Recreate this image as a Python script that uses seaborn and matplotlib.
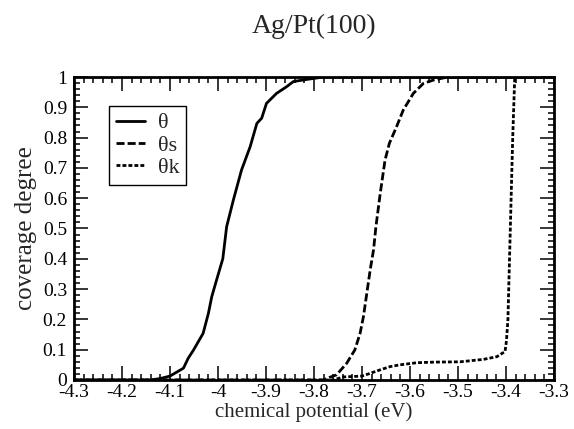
import numpy as np
import pandas as pd
import seaborn as sns
from matplotlib import pyplot as plt
from matplotlib.ticker import MultipleLocator, FormatStrFormatter

mu_theta = [-4.30, -4.14, -4.12, -4.10, -4.072, -4.062, -4.051, -4.031, -4.020, -4.013,
            -4.003, -3.99, -3.982, -3.968, -3.951, -3.933, -3.919, -3.909, -3.899,
            -3.878, -3.857, -3.843, -3.815, -3.78, -3.30]
cov_theta = [0.0, 0.0, 0.005, 0.013, 0.039, 0.072, 0.099, 0.154, 0.22, 0.275,
             0.33, 0.40, 0.506, 0.594, 0.693, 0.77, 0.847, 0.864, 0.913,
             0.946, 0.968, 0.985, 0.992, 1.0, 1.0]

mu_s = [-4.30, -3.78, -3.774, -3.753, -3.732, -3.715, -3.704, -3.697, -3.690, -3.683,
        -3.676, -3.671, -3.662, -3.652, -3.643, -3.628, -3.614, -3.593, -3.572,
        -3.551, -3.524, -3.30]
cov_s = [0.0, 0.0, 0.005, 0.017, 0.055, 0.099, 0.154, 0.209, 0.286, 0.363,
         0.429, 0.506, 0.616, 0.726, 0.781, 0.836, 0.891, 0.946, 0.979,
         0.99, 0.999, 1.0]

mu_k = [-4.30, -3.76, -3.739, -3.70, -3.683, -3.663, -3.642, -3.621, -3.586, -3.55,
        -3.496, -3.447, -3.419, -3.402, -3.399, -3.396, -3.391, -3.386, -3.382,
        -3.381, -3.30]
cov_k = [0.0, 0.0, 0.01, 0.013, 0.022, 0.033, 0.044, 0.05, 0.057, 0.059,
         0.06, 0.068, 0.077, 0.094, 0.13, 0.2, 0.5, 0.8, 0.99,
         1.0, 1.0]

labels = ['\u03b8', '\u03b8s', '\u03b8k']
dash_styles = ['', (2.9, 1.1), (1.4, 0.75)]

sns.set_style('ticks')
plt.rcParams['font.family'] = ['Liberation Serif', 'DejaVu Serif']
plt.rcParams['axes.unicode_minus'] = False

fig = plt.figure(figsize=(5.74, 4.29), dpi=100)
ax = fig.add_axes([74/574, 49/429, 480/574, 303/429])

series = [(mu_theta, cov_theta), (mu_s, cov_s), (mu_k, cov_k)]
for (mu, cov), lab, ds in zip(series, labels, dash_styles):
    df = pd.DataFrame({'mu': mu, 'cov': cov})
    sns.lineplot(data=df, x='mu', y='cov', ax=ax, color='black', lw=2,
                 estimator=None, label=lab)
    if ds:
        ax.lines[-1].set_dashes(ds)

ax.set_xlim(-4.3, -3.3)
ax.set_ylim(0, 1)
ax.xaxis.set_major_locator(MultipleLocator(0.1))
ax.xaxis.set_minor_locator(MultipleLocator(0.02))
ax.yaxis.set_major_locator(MultipleLocator(0.1))
ax.yaxis.set_minor_locator(MultipleLocator(0.02))
ax.xaxis.set_major_formatter(FormatStrFormatter('%g'))
ax.yaxis.set_major_formatter(FormatStrFormatter('%g'))
ax.tick_params(which='both', direction='in', top=True, right=True,
               colors='black', width=1.1)
ax.tick_params(which='major', length=10, labelsize=14)
ax.tick_params(axis='x', which='major', pad=3)
ax.tick_params(axis='y', which='major', pad=5)
ax.tick_params(which='minor', length=4)
for s in ax.spines.values():
    s.set_linewidth(2)
    s.set_color('black')

ax.set_xlabel('chemical potential (eV)', fontsize=15, labelpad=1)
ax.set_ylabel('coverage degree', fontsize=18, labelpad=4)
ax.set_title('Ag/Pt(100)', fontsize=20, pad=32)

leg = ax.legend(loc='upper left', bbox_to_anchor=(0.073, 0.904), borderaxespad=0,
                fontsize=16, handlelength=1.3, handletextpad=0.6,
                labelspacing=0.08, fancybox=False, framealpha=1,
                edgecolor='black', borderpad=0.3)
leg.get_frame().set_linewidth(1)

plt.savefig('out.png', dpi=100)
